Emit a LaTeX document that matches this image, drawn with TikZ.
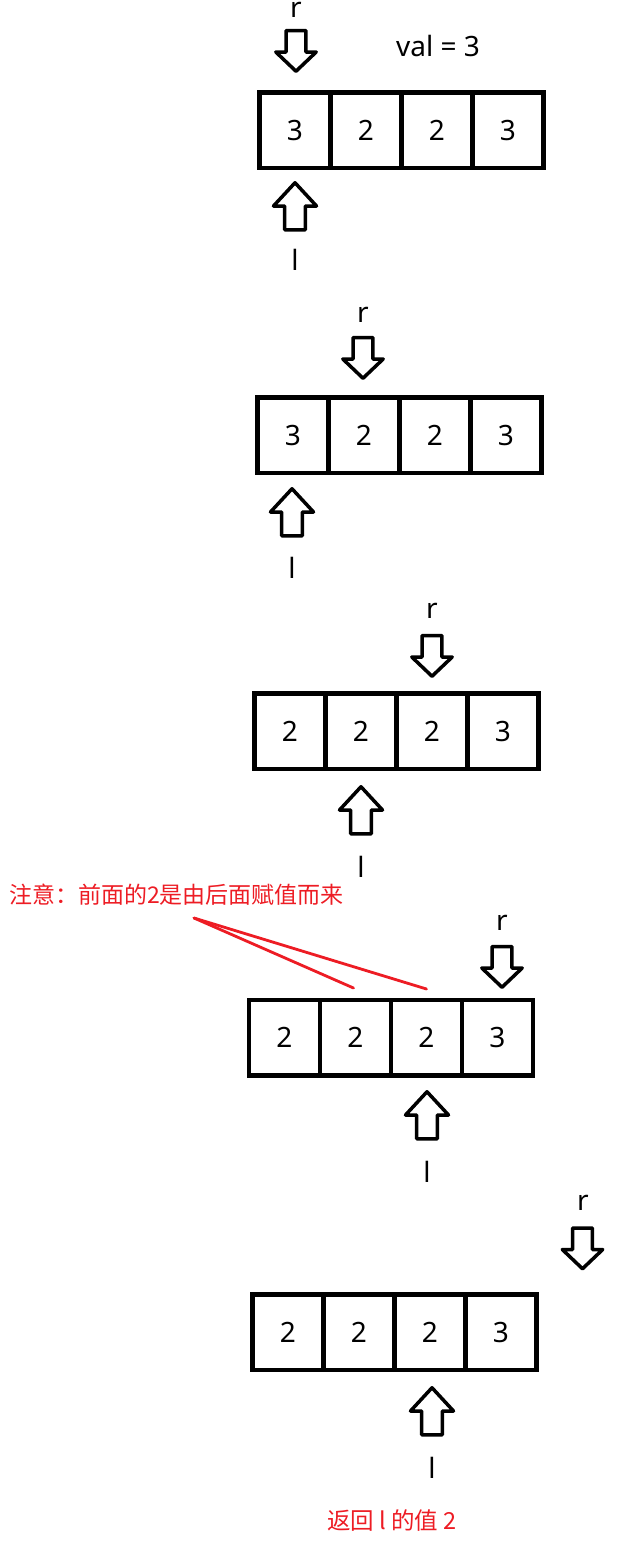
\documentclass[tikz,border=0pt]{standalone}
\usepackage{fontspec}
\setmainfont{Noto Sans}
\newfontfamily\cjk{Noto Sans CJK SC}
\usetikzlibrary{calc}
\definecolor{annred}{HTML}{ED1C24}
\tikzset{
  cell/.style={draw, line width=4.5pt, minimum width=71pt, minimum height=75.5pt,
    inner sep=0pt, outer sep=0pt, anchor=north west, font=\fontsize{28}{31}\selectfont},
  lbl/.style={font=\fontsize{28}{31}\selectfont, inner sep=0pt},
  ptr/.style={draw, line width=3.5pt, line join=round, fill=white},
  note/.style={text=annred, font=\cjk\fontsize{23}{26}\selectfont, inner sep=0pt},
  noteline/.style={draw=annred, line width=2.8pt, line cap=round},
  pics/downptr/.style={code={
    \draw[ptr] (-9.8,-42.5) -- (9.8,-42.5) -- (9.8,-21) -- (20.2,-21) -- (0,-1.75)
      -- (-20.2,-21) -- (-9.8,-21) -- cycle;}},
  pics/upptr/.style={code={
    \draw[ptr] (0,1.75) -- (21.5,25) -- (10.3,25) -- (10.3,48.8) -- (-10.3,48.8)
      -- (-10.3,25) -- (-21.5,25) -- cycle;}}
}
\newcommand{\arrrow}[6]{%
  \node[cell] (#1c1) at (#2,#3) {#4};
  \node[cell] (#1c2) at ($(#1c1.north east)$) {#5};
  \node[cell] (#1c3) at ($(#1c2.north east)$) {#6};
}
\begin{document}
\begin{tikzpicture}[x=1pt,y=-1pt]
\useasboundingbox (0,0) rectangle (642,1564);

% ---------- panel 1 ----------
\arrrow{pa}{259.5}{92.5}{3}{2}{2}
\node[cell] (pac4) at (pac3.north east) {3};
\pic at (296,73) {downptr};
\pic at (295,181) {upptr};
\node[lbl] (par) at (296,9.5) {r};
\node[lbl] (pal) at (295,260) {l};
\node[lbl] (val) at (438,46) {val = 3};

% ---------- panel 2 ----------
\arrrow{pb}{257.5}{397.5}{3}{2}{2}
\node[cell] (pbc4) at (pbc3.north east) {3};
\pic at (363,380) {downptr};
\pic at (292,487) {upptr};
\node[lbl] (pbr) at (363,315) {r};
\node[lbl] (pbl) at (292,568) {l};

% ---------- panel 3 ----------
\arrrow{pc}{254.5}{693.5}{2}{2}{2}
\node[cell] (pcc4) at (pcc3.north east) {3};
\pic at (432,678) {downptr};
\pic at (361,785) {upptr};
\node[lbl] (pcr) at (432,611) {r};
\node[lbl] (pcl) at (361,867) {l};

% ---------- panel 4 ----------
\arrrow{pd}{249}{1000}{2}{2}{2}
\node[cell] (pdc4) at (pdc3.north east) {3};
\pic at (502,989) {downptr};
\pic at (427,1090) {upptr};
\node[lbl] (pdr) at (502,923) {r};
\node[lbl] (pdl) at (427,1172) {l};

% ---------- panel 5 ----------
\arrrow{pe}{252.5}{1294.5}{2}{2}{2}
\node[cell] (pec4) at (pec3.north east) {3};
\pic at (582.5,1270.5) {downptr};
\pic at (432,1386) {upptr};
\node[lbl] (per) at (583,1203) {r};
\node[lbl] (pel) at (432,1468) {l};

% ---------- annotations ----------
\node[note, anchor=west] (note1) at (9,895) {注意：前面的2是由后面赋值而来};
\coordinate (nstart) at (194,918);
\draw[noteline] (nstart) -- ($(pdc2.north)+(-2,-12)$);
\draw[noteline] (nstart) -- ($(pdc3.north)+(0,-11)$);
\node[note, font=\cjk\fontsize{23.5}{26}\selectfont] (note2) at (392,1521) {返回 l 的值 2};
\end{tikzpicture}
\end{document}
